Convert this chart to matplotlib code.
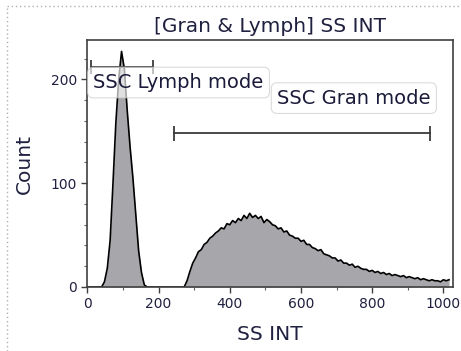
import numpy as np
import matplotlib
matplotlib.use('Agg')
import matplotlib.pyplot as plt
from matplotlib.lines import Line2D

# histogram of SS INT, 8-channel bins
ss_bins = np.arange(0, 1024, 8)
counts = [
    # 0 .. 264 : lymphocyte peak
    0, 0, 0, 0, 0, 0, 5, 18, 45, 100, 158, 200, 227, 210, 170, 135, 105,
    70, 35, 14, 2, 0,
    0, 0, 0, 0, 0, 0, 0, 0, 0, 0, 0, 0,
    # 272 .. 1016 : granulocyte hump
    0, 6, 15, 23, 28, 34, 36, 41, 43, 47,
    49, 52, 54, 57, 56, 61, 60, 64, 62, 66,
    64, 69, 66, 71, 67, 69, 66, 68, 62, 65,
    63, 60, 59, 56, 57, 53, 54, 50, 49, 47,
    47, 44, 45, 41, 41, 38, 37, 35, 36, 32,
    31, 30, 28, 28, 25, 26, 23, 23, 21, 22,
    19, 20, 18, 17, 17, 15, 16, 14, 15, 13,
    14, 12, 13, 11, 12, 11, 10, 11, 9, 10,
    9, 8, 9, 7, 8, 7, 6, 7, 6, 6,
    5, 7, 6, 7,
]

# gates: (x start, x end, y level)
lymph_gate = (11, 185, 212)
gran_gate = (244, 963, 148)

title = '[Gran & Lymph] SS INT'

fig = plt.figure(figsize=(4.61, 3.51), dpi=100)
ax = fig.add_axes([87/461, 1-287/351, (453-87)/461, (287-40)/351])

ax.fill_between(ss_bins, counts, 0, color='#a7a7ab', lw=0)
ax.plot(ss_bins, counts, color='black', lw=1.2)

for x0, x1, y in (lymph_gate, gran_gate):
    ax.plot([x0, x1], [y, y], color='#3a3a3a', lw=1.3)
    ax.vlines([x0, x1], y - 7, y + 7, color='#3a3a3a', lw=1.3)

box = dict(boxstyle='round,pad=0.3', facecolor='white', alpha=0.65,
           edgecolor='#c8c8c8', lw=0.8)
ax.text(17, 197, 'SSC Lymph mode', fontsize=14, color='#1a1a3a',
        va='center', ha='left', bbox=box)
ax.text(533, 182, 'SSC Gran mode', fontsize=14, color='#1a1a3a',
        va='center', ha='left', bbox=box)

ax.set_xlim(-1, 1027)
ax.set_ylim(0, 238)
ax.set_xticks([0, 200, 400, 600, 800, 1000])
ax.set_xticks(np.arange(100, 1001, 200), minor=True)
ax.set_yticks([0, 100, 200])
ax.set_yticks([20, 40, 60, 80, 120, 140, 160, 180, 220], minor=True)
ax.tick_params(which='major', direction='out', length=4, width=1,
               color='#404040', labelsize=10, labelcolor='#202040', pad=3)
ax.tick_params(which='minor', direction='out', length=2.5, width=0.8,
               color='#606060')
for s in ax.spines.values():
    s.set_color('#404040')
    s.set_linewidth(1.2)

ax.set_title(title, fontsize=14.5, color='#202040', pad=6)
ax.set_xlabel('SS INT', fontsize=14.5, color='#202040', labelpad=10)
ax.set_ylabel('Count', fontsize=14.5, color='#202040', labelpad=12)

# dotted frame of the panel
fig.add_artist(Line2D([7/461, 1], [1-6/351, 1-6/351], color='#b0b0b0',
                      lw=1, ls=(0, (1, 2)), transform=fig.transFigure))
fig.add_artist(Line2D([7/461, 7/461], [0, 1-6/351], color='#b0b0b0',
                      lw=1, ls=(0, (1, 2)), transform=fig.transFigure))

fig.savefig('out.png', dpi=100)
